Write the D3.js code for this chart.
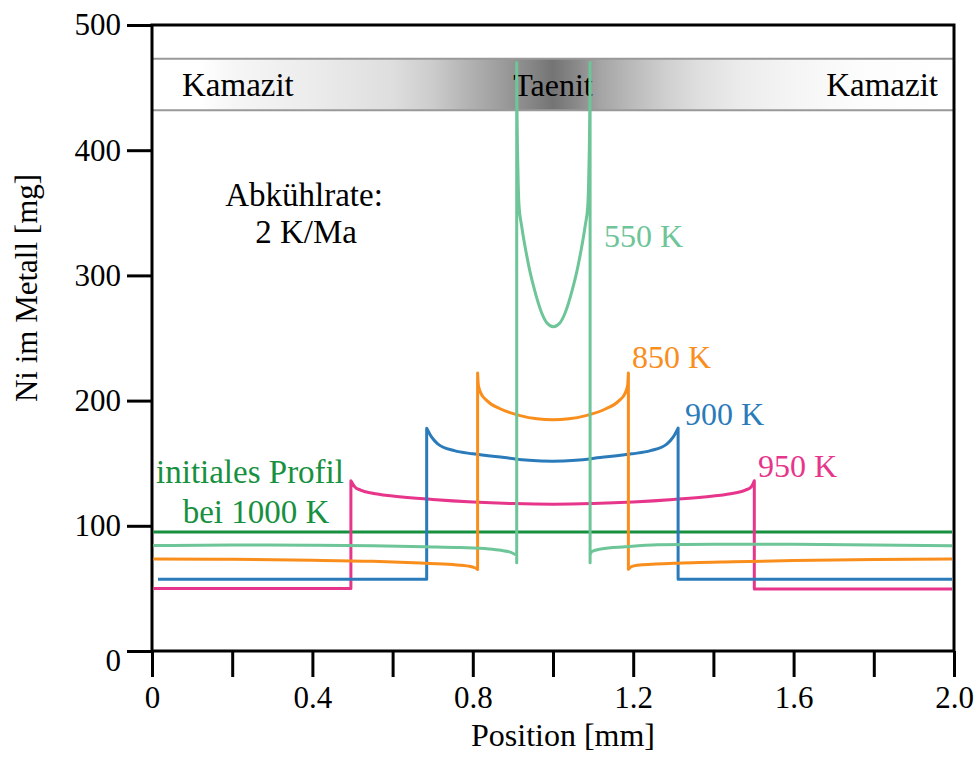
<!DOCTYPE html>
<html>
<head>
<meta charset="utf-8">
<script src="https://cdn.jsdelivr.net/npm/d3@7/dist/d3.min.js"></script>
<style>
  html, body { margin: 0; padding: 0; background: #fff; }
  svg text { font-family: "Liberation Serif", "Times New Roman", serif; }
</style>
</head>
<body>
<svg id="chart" width="979" height="763"></svg>
<script>
// Axis ticks
const positionTicks = [0, 0.2, 0.4, 0.6, 0.8, 1.0, 1.2, 1.4, 1.6, 1.8, 2.0];
const positionTickLabels = ["0", "", "0.4", "", "0.8", "", "1.2", "", "1.6", "", "2.0"];
const niTicks = [0, 100, 200, 300, 400, 500];

// Initial Ni profile at 1000 K
const initialProfile = [[0.003, 95], [1.995, 95]];

// 550 K profile: kamacite arm, taenite centre, kamacite arm
const k550Left = [[0.003, 84.2], [0.2, 84.6], [0.39, 84.5], [0.55, 84.0], [0.68, 83.2], [0.77, 82.6], [0.84, 81.5], [0.87, 80.4], [0.895, 78.8], [0.9095, 76.5]];
const k550Center = [[0.9095, 470], [0.9103, 430], [0.9115, 400], [0.9132, 374], [0.9152, 356], [0.922, 339], [0.9344, 316], [0.9426, 303], [0.9534, 289], [0.9718, 270], [0.985, 262], [1.001, 259],
                    [1.017, 262], [1.0302, 270], [1.0486, 289], [1.0594, 303], [1.0676, 316], [1.08, 339], [1.0868, 356], [1.0888, 374], [1.0905, 400], [1.0917, 430], [1.0925, 470]];
const k550Right = [[1.0925, 77], [1.097, 79.5], [1.12, 81.5], [1.18, 83.2], [1.26, 84.8], [1.4, 85.3], [1.6, 85.2], [1.8, 84.7], [1.995, 84.0]];
const k550StemBottom = 70.5;

// 850 K profile
const k850Left = [[0.003, 73.5], [0.2, 73.2], [0.4, 72.5], [0.55, 71.6], [0.67, 70.2], [0.75, 69.0], [0.79, 67.8], [0.805, 66.5], [0.812, 65.2]];
const k850Center = [[0.812, 222], [0.814, 212], [0.820, 206], [0.835, 200], [0.868, 193.5], [0.918, 188], [0.96, 185.5], [1.0, 184.8], [1.04, 185.5], [1.082, 188], [1.132, 193.5], [1.165, 200], [1.18, 206], [1.186, 212], [1.188, 222]];
const k850Right = [[1.188, 65.2], [1.195, 67.3], [1.21, 68.5], [1.3, 70], [1.45, 71.3], [1.6, 72.2], [1.8, 73], [1.995, 73.4]];

// 900 K profile
const k900Left = [[0.015, 57.4], [0.685, 57.4]];
const k900Center = [[0.685, 178], [0.697, 171], [0.7125, 165.5], [0.754, 160], [0.8, 157.5], [0.879, 154.5], [0.94, 152.3], [0.9985, 151.5], [1.057, 152.3], [1.118, 154.5], [1.197, 157.5], [1.243, 160], [1.2845, 165.5], [1.3, 171], [1.312, 178]];
const k900Right = [[1.312, 57.4], [1.995, 57.4]];

// 950 K profile
const k950Left = [[0.003, 50], [0.496, 50]];
const k950Center = [[0.496, 136], [0.506, 131], [0.52, 128.5], [0.55, 126], [0.6, 123.8], [0.7, 121], [0.8, 119], [0.9, 117.8], [1.0, 117.3], [1.1, 117.8], [1.2, 119], [1.3, 121], [1.4, 123.8], [1.45, 126], [1.48, 128.5], [1.494, 131], [1.502, 136]];
const k950Right = [[1.502, 49.6], [1.995, 49.6]];

const seriesNames = ["550 K", "850 K", "900 K", "950 K"];
const initialLabel = ["initiales Profil", "bei 1000 K"];
const rateLabel = ["Abkühlrate:", "2 K/Ma"];
const phaseLabels = ["Kamazit", "Taenit", "Kamazit"];

const svg = d3.select("#chart");
const x = d3.scaleLinear().domain([0, 2]).range([152, 954]);
const y = d3.scaleLinear().domain([0, 500]).range([651, 25]);

// Phase band (kamacite - taenite - kamacite)
const defs = svg.append("defs");
const grad = defs.append("linearGradient").attr("id", "phase")
  .attr("gradientUnits", "userSpaceOnUse")
  .attr("x1", x(0)).attr("x2", x(2)).attr("y1", 0).attr("y2", 0);
[[0, "#ffffff"], [0.06, "#ffffff"], [0.10, "#f6f6f6"], [0.2, "#ececec"], [0.3, "#dedede"],
 [0.35, "#cccccc"], [0.39, "#b5b5b5"], [0.43, "#a0a0a0"], [0.47, "#888888"], [0.5, "#747474"],
 [0.53, "#8a8a8a"], [0.56, "#a5a5a5"], [0.6, "#bbbbbb"], [0.64, "#cfcfcf"], [0.68, "#dedede"],
 [0.73, "#ebebeb"], [0.8, "#f5f5f5"], [0.88, "#fcfcfc"], [1, "#ffffff"]]
  .forEach(([o, c]) => grad.append("stop").attr("offset", o).attr("stop-color", c));

const bandTop = 473, bandBottom = 432;
svg.append("rect")
  .attr("x", x(0)).attr("width", x(2) - x(0))
  .attr("y", y(bandTop)).attr("height", y(bandBottom) - y(bandTop))
  .attr("fill", "url(#phase)");
[bandTop, bandBottom].forEach(v => svg.append("line")
  .attr("x1", x(0)).attr("x2", x(2)).attr("y1", y(v)).attr("y2", y(v))
  .attr("stroke", "#999").attr("stroke-width", 2));

const phaseG = svg.append("g").attr("font-size", 33).attr("fill", "#000");
phaseG.append("text").attr("x", 182).attr("y", 96).text(phaseLabels[0]);
phaseG.append("text").attr("x", x(1)).attr("y", 96).attr("text-anchor", "middle").attr("font-size", 32).text(phaseLabels[1]);
phaseG.append("text").attr("x", 938).attr("y", 96).attr("text-anchor", "end").text(phaseLabels[2]);

// Axes
const yAxis = d3.axisLeft(y).tickValues(niTicks).tickSize(25).tickSizeOuter(0).tickPadding(6);
const gy = svg.append("g").attr("transform", `translate(${x(0)},0)`).call(yAxis);
const xAxis = d3.axisBottom(x).tickValues(positionTicks).tickSize(26).tickSizeOuter(0).tickPadding(9)
  .tickFormat((d, i) => positionTickLabels[i]);
const gx = svg.append("g").attr("transform", `translate(0,${y(0)})`).call(xAxis);
[gx, gy].forEach(g => {
  g.select(".domain").remove();
  g.selectAll(".tick line").attr("stroke", "#000").attr("stroke-width", 3);
  g.selectAll(".tick text").attr("font-size", 31).attr("fill", "#000")
    .style("font-family", '"Liberation Serif", "Times New Roman", serif');
});
gy.selectAll(".tick").filter(d => d === 0).select("text").attr("dy", "0.62em");

// Frame
svg.append("rect")
  .attr("x", x(0)).attr("y", y(500)).attr("width", x(2) - x(0)).attr("height", y(0) - y(500))
  .attr("fill", "none").attr("stroke", "#000").attr("stroke-width", 3);

// Axis titles
svg.append("text").attr("x", 563).attr("y", 746).attr("text-anchor", "middle")
  .attr("font-size", 32).text("Position [mm]");
svg.append("text").attr("transform", "translate(37,288) rotate(-90)").attr("text-anchor", "middle")
  .attr("font-size", 31).text("Ni im Metall [mg]");

// Profile paths: arm -> vertical step -> centre -> vertical step -> arm
const smooth = d3.line().x(d => x(d[0])).y(d => y(d[1])).curve(d3.curveMonotoneX);
function profilePath(left, center, right, stemBottom) {
  let p = smooth(left);
  const xl = x(left[left.length - 1][0]);
  if (stemBottom !== undefined) p += `L${xl},${y(stemBottom)}`;
  p += smooth(center).replace(/^M/, "L");
  const c = center[center.length - 1];
  if (stemBottom !== undefined) p += `L${x(c[0])},${y(stemBottom)}`;
  p += smooth(right).replace(/^M/, "L");
  return p;
}

const lines = svg.append("g").attr("fill", "none").attr("stroke-width", 3).attr("stroke-linejoin", "round");
lines.append("path").attr("d", smooth(initialProfile)).attr("stroke", "#17903f");
lines.append("path").attr("d", profilePath(k950Left, k950Center, k950Right)).attr("stroke", "#e7358c");
lines.append("path").attr("d", profilePath(k900Left, k900Center, k900Right)).attr("stroke", "#2b7bba");
lines.append("path").attr("d", profilePath(k850Left, k850Center, k850Right)).attr("stroke", "#f98e1d");
lines.append("path").attr("d", profilePath(k550Left, k550Center, k550Right, k550StemBottom)).attr("stroke", "#6dc598");

// Series labels
const labelG = svg.append("g").attr("font-size", 32);
labelG.append("text").attr("x", 604).attr("y", 247).attr("fill", "#6dc598").text(seriesNames[0]);
labelG.append("text").attr("x", 632).attr("y", 368).attr("fill", "#f98e1d").text(seriesNames[1]);
labelG.append("text").attr("x", 685).attr("y", 425).attr("fill", "#2b7bba").text(seriesNames[2]);
labelG.append("text").attr("x", 758).attr("y", 477).attr("fill", "#e7358c").text(seriesNames[3]);

labelG.append("text").attr("x", 250).attr("y", 483).attr("text-anchor", "middle").attr("fill", "#17903f").attr("font-size", 33).text(initialLabel[0]);
labelG.append("text").attr("x", 256).attr("y", 523).attr("text-anchor", "middle").attr("fill", "#17903f").attr("font-size", 33).text(initialLabel[1]);

labelG.append("text").attr("x", 304).attr("y", 206).attr("text-anchor", "middle").attr("fill", "#000").attr("font-size", 33).text(rateLabel[0]);
labelG.append("text").attr("x", 306).attr("y", 243).attr("text-anchor", "middle").attr("fill", "#000").attr("font-size", 33).text(rateLabel[1]);
</script>
</body>
</html>
